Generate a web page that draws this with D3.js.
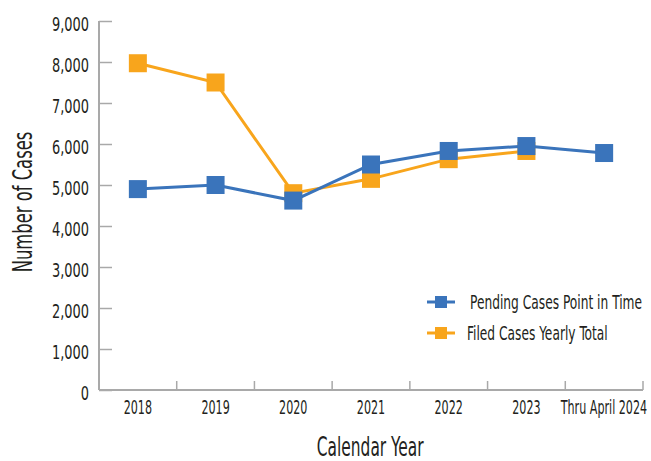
<!DOCTYPE html>
<html>
<head>
<meta charset="utf-8">
<script src="https://cdn.jsdelivr.net/npm/d3@7"></script>
<style>
  body { margin: 0; background: #fff; }
  svg text { font-family: "DejaVu Sans Condensed", "Liberation Sans Narrow", sans-serif; fill: #231f20; }
  .sq { transform-box: fill-box; }
  .sq-end { transform-origin: right center; }
  .sq-mid { transform-origin: center center; }
  .sq-start { transform-origin: left center; }
</style>
</head>
<body>
<script>
// data
var years = ["2018", "2019", "2020", "2021", "2022", "2023", "Thru April 2024"];
var pending = [4900, 5000, 4620, 5500, 5830, 5950, 5780];
var filed = [7970, 7500, 4800, 5150, 5630, 5830, null];
var yTicks = [0, 1000, 2000, 3000, 4000, 5000, 6000, 7000, 8000, 9000];
var seriesNames = ["Pending Cases Point in Time", "Filed Cases Yearly Total"];

var width = 651, height = 461;
var blue = "#3a74bb", orange = "#f8a51c", axisGrey = "#a9a9a9";

var svg = d3.select("body").append("svg")
    .attr("width", width)
    .attr("height", height);

// skalor
var x = d3.scaleBand().domain(years).range([99, 643]).padding(0);
var y = d3.scaleLinear().domain([0, 9000]).range([390, 21]);

// y-axel
var yAxis = svg.append("g")
    .attr("transform", "translate(99,0)")
    .call(d3.axisLeft(y).tickValues(yTicks).tickSize(-13).tickPadding(10).tickFormat(d3.format(",")));
yAxis.select(".domain").remove();
yAxis.selectAll("line").attr("stroke", axisGrey).attr("stroke-width", 1.5);
yAxis.selectAll("text")
    .attr("font-size", 20).attr("dy", "0.45em")
    .attr("class", "sq sq-end")
    .style("transform", "scaleX(0.72)");
svg.append("line")
    .attr("x1", 99).attr("x2", 99)
    .attr("y1", y(9000)).attr("y2", y(0))
    .attr("stroke", axisGrey).attr("stroke-width", 2);

// x-axel
var xAxis = svg.append("g")
    .attr("transform", "translate(0,390)")
    .call(d3.axisBottom(x).tickSize(0).tickPadding(10));
xAxis.select(".domain").remove();
xAxis.selectAll("text")
    .attr("font-size", 20)
    .attr("class", "sq sq-mid")
    .style("transform", "scaleX(0.62)");
// tick marks between categories
var bounds = years.map(function(d) { return x(d) + x.bandwidth(); });
svg.append("g").selectAll("line").data(bounds).enter().append("line")
    .attr("x1", function(d) { return d; }).attr("x2", function(d) { return d; })
    .attr("y1", 381).attr("y2", 390)
    .attr("stroke", axisGrey).attr("stroke-width", 1.5);
svg.append("line")
    .attr("x1", 99).attr("x2", 643)
    .attr("y1", 390).attr("y2", 390)
    .attr("stroke", axisGrey).attr("stroke-width", 2);

// axeltitlar
svg.append("text")
    .attr("x", 370).attr("y", 456)
    .attr("text-anchor", "middle")
    .attr("font-size", 26)
    .attr("class", "sq sq-mid")
    .style("transform", "scaleX(0.66)")
    .text("Calendar Year");
svg.append("g")
    .attr("transform", "translate(32,202) rotate(-90)")
    .append("text")
    .attr("text-anchor", "middle")
    .attr("font-size", 26)
    .attr("class", "sq sq-mid")
    .style("transform", "scaleX(0.7)")
    .text("Number of Cases");

// linjer och punkter
function drawSeries(values, color) {
    var pts = years.map(function(d, i) { return { year: d, v: values[i] }; })
        .filter(function(d) { return d.v != null; });
    var line = d3.line()
        .x(function(d) { return x(d.year) + x.bandwidth() / 2; })
        .y(function(d) { return y(d.v); });
    svg.append("path")
        .attr("d", line(pts))
        .attr("fill", "none")
        .attr("stroke", color)
        .attr("stroke-width", 3);
    svg.append("g").selectAll("rect").data(pts).enter().append("rect")
        .attr("x", function(d) { return x(d.year) + x.bandwidth() / 2 - 9; })
        .attr("y", function(d) { return y(d.v) - 9; })
        .attr("width", 18).attr("height", 18)
        .attr("fill", color);
}
drawSeries(filed, orange);
drawSeries(pending, blue);

// legend
var legend = svg.append("g");
[blue, orange].forEach(function(c, i) {
    var ly = 302 + i * 31;
    legend.append("line")
        .attr("x1", 427).attr("x2", 455)
        .attr("y1", ly).attr("y2", ly)
        .attr("stroke", c).attr("stroke-width", 3);
    legend.append("rect")
        .attr("x", 435).attr("y", ly - 6)
        .attr("width", 12).attr("height", 12)
        .attr("fill", c);
    legend.append("text")
        .attr("x", i == 0 ? 470 : 467).attr("y", ly + 7)
        .attr("font-size", 20)
        .attr("class", "sq sq-start")
        .style("transform", "scaleX(0.68)")
        .text(seriesNames[i]);
});
</script>
</body>
</html>
